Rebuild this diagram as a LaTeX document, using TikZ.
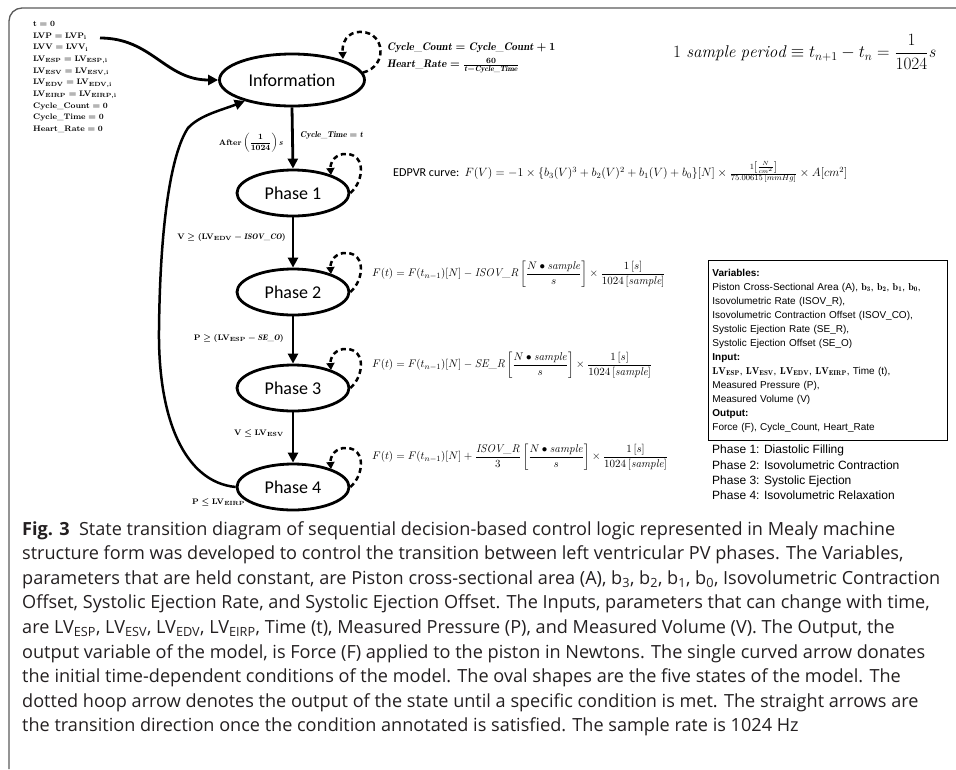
\documentclass[tikz,border=0pt]{standalone}
\usepackage{amsmath}
\usepackage{fontspec}
\newfontfamily\carl{Carlito}
\newfontfamily\arialf{Liberation Sans}
\newfontfamily\osans{Open Sans}
\usetikzlibrary{arrows.meta,shapes.geometric}
\definecolor{capcol}{HTML}{231F20}
\definecolor{frmcol}{HTML}{5A5A5A}
\tikzset{
  state/.style={ellipse, draw, line width=2.8pt, inner sep=0pt, minimum width=112pt, minimum height=46pt, font=\carl\fontsize{18}{20}\selectfont},
  arr/.style={line width=2.8pt, -{Triangle[length=10pt,width=10pt]}},
  loopd/.style={line width=2.5pt, dash pattern=on 5pt off 3.5pt, -{Triangle[length=7pt,width=8pt]}},
  lbl/.style={inner sep=0pt, font=\fontsize{8}{10}\selectfont\boldmath},
  frm/.style={inner sep=0pt, anchor=west, font=\fontsize{11.3}{13}\selectfont},
}
\begin{document}
\begin{tikzpicture}[x=1pt,y=1pt]
\useasboundingbox (0,0) rectangle (956,-769);
% frame
\draw[frmcol, line width=1.3pt] (9,-769) -- (9,-21) arc[start angle=180, end angle=90, radius=13] -- (956,-8);

% states
\node[state, minimum width=145pt, minimum height=52pt] (info) at (292,-80) {Information};
\node[state] (p1) at (293,-193) {Phase 1};
\node[state] (p2) at (293,-292) {Phase 2};
\node[state] (p3) at (293,-388) {Phase 3};
\node[state] (p4) at (293,-487) {Phase 4};

% initial conditions
\node[anchor=north west, align=left, inner sep=0pt, font=\fontsize{8.2}{11.7}\selectfont\boldmath] (init) at (33,-21)
{$\mathbf{t = 0}$\\
 $\mathbf{LVP = LVP_i}$\\
 $\mathbf{LVV = LVV_i}$\\
 $\mathbf{LV_{ESP} = LV_{ESP,i}}$\\
 $\mathbf{LV_{ESV} = LV_{ESV,i}}$\\
 $\mathbf{LV_{EDV} = LV_{EDV,i}}$\\
 $\mathbf{LV_{EIRP} = LV_{EIRP,i}}$\\
 $\mathbf{Cycle\_Count = 0}$\\
 $\mathbf{Cycle\_Time = 0}$\\
 $\mathbf{Heart\_Rate = 0}$};
\coordinate (start) at (100,-38);
\draw[arr] (start) .. controls (152,-38) and (165,-80) .. (info.west);

% straight transitions
\draw[arr] (info.south) -- (p1.north);
\draw[arr] (p1.south) -- (p2.north);
\draw[arr] (p2.south) -- (p3.north);
\draw[arr] (p3.south) -- (p4.north);

% return curve
\draw[line width=2.5pt, -{Triangle[length=10pt,width=10pt]}] (p4.west) .. controls (185,-482) and (158,-420) .. (159,-330)
  .. controls (160,-230) and (170,-155) .. (188,-128)
  .. controls (200,-115) and (222,-110) .. (info.204);

% dashed loops
\draw[loopd] (info.6) .. controls (388,-66) and (385,-33) .. (362,-32) .. controls (346,-31) and (342,-44) .. (343,-59);
\foreach \n/\c in {p1/193,p2/292,p3/388,p4/487}{
  \draw[loopd] (\n.east) .. controls (364,-\c+12) and (366,-\c+38) .. (347,-\c+39) .. controls (335,-\c+40) and (330,-\c+30) .. (331,-\c+18);
}

% labels on transitions
\node[lbl, anchor=east, font=\fontsize{8.5}{10}\selectfont\boldmath] (lafter) at (283,-143) {$\mathbf{After}\left(\dfrac{1}{1024}\right)\mathit{s}$};
\node[lbl, anchor=west, font=\fontsize{8.5}{10}\selectfont\boldmath] (lctime) at (300,-135) {$\mathit{Cycle\_Time} = \mathit{t}$};
\node[lbl, anchor=east] (l12) at (286,-237) {$\mathbf{V} \geq (\mathbf{LV}_{\mathbf{EDV}} - \mathit{ISOV\_CO})$};
\node[lbl, anchor=east] (l23) at (284,-338) {$\mathbf{P} \geq (\mathbf{LV}_{\mathbf{ESP}} - \mathit{SE\_O})$};
\node[lbl, anchor=east] (l34) at (284,-433) {$\mathbf{V} \leq \mathbf{LV}_{\mathbf{ESV}}$};
\node[lbl, anchor=west] (l41) at (192,-502) {$\mathbf{P} \leq \mathbf{LV}_{\mathbf{EIRP}}$};

% info outputs
\node[anchor=north west, align=left, inner sep=0pt, font=\fontsize{11}{17}\selectfont\boldmath] (infoout) at (387,-43)
{$\mathit{Cycle\_Count} = \mathit{Cycle\_Count} + 1$\\
 $\mathit{Heart\_Rate} = \frac{60}{\mathit{t} - \mathit{Cycle\_Time}}$};

% sample period
\node[inner sep=0pt, anchor=west, font=\fontsize{17}{19}\selectfont] (period) at (673,-52)
{$1\ \mathit{sample\ period} \equiv t_{n+1} - t_n = \dfrac{1}{1024}\mathit{s}$};

% formulas
\node[frm, font=\fontsize{12.1}{14}\selectfont] (f1) at (393,-172) {{\carl EDPVR curve:} $F(V) = -1 \times \{b_3(V)^3 + b_2(V)^2 + b_1(V) + b_0\}[N] \times \frac{1\left[\frac{N}{cm^2}\right]\rule[-2pt]{0pt}{0pt}}{75.00615\,[mmHg]} \times A[cm^2]$};
\node[frm] (f2) at (372,-274) {$F(t) = F(t_{n-1})[N] - \mathit{ISOV\_R}\left[\dfrac{N \bullet \mathit{sample}}{s}\right] \times \dfrac{1\,[s]}{1024\,[\mathit{sample}]}$};
\node[frm] (f3) at (372,-365) {$F(t) = F(t_{n-1})[N] - \mathit{SE\_R}\left[\dfrac{N \bullet \mathit{sample}}{s}\right] \times \dfrac{1\,[s]}{1024\,[\mathit{sample}]}$};
\node[frm] (f4) at (372,-457) {$F(t) = F(t_{n-1})[N] + \dfrac{\mathit{ISOV\_R}}{3}\left[\dfrac{N \bullet \mathit{sample}}{s}\right] \times \dfrac{1\,[s]}{1024\,[\mathit{sample}]}$};

% variables box
\node[draw, line width=0.9pt, anchor=north west, inner xsep=4pt, inner ysep=0pt, text width=231pt, minimum height=180pt, align=left,
      font=\arialf\fontsize{10}{14}\selectfont] (vars) at (708,-260)
{\textbf{Variables:}\\
 Piston Cross-Sectional Area (A), $\mathbf{b_3}$, $\mathbf{b_2}$, $\mathbf{b_1}$, $\mathbf{b_0}$,\\
 Isovolumetric Rate (ISOV\_R),\\
 Isovolumetric Contraction Offset (ISOV\_CO),\\
 Systolic Ejection Rate (SE\_R),\\
 Systolic Ejection Offset (SE\_O)\\
 \textbf{Input:}\\
 $\mathbf{LV_{ESP}}$, $\mathbf{LV_{ESV}}$, $\mathbf{LV_{EDV}}$, $\mathbf{LV_{EIRP}}$, Time (t),\\
 Measured Pressure (P),\\
 Measured Volume (V)\\
 \textbf{Output:}\\
 Force (F), Cycle\_Count, Heart\_Rate};

\node[anchor=north west, inner sep=0pt, align=left, font=\arialf\fontsize{12}{15.3}\selectfont] (phases) at (712,-445)
{Phase 1: Diastolic Filling\\
 Phase 2: Isovolumetric Contraction\\
 Phase 3: Systolic Ejection\\
 Phase 4: Isovolumetric Relaxation};

% caption
\node[anchor=north west, inner sep=0pt, align=left, text=capcol, font=\osans\fontsize{18.1}{24.6}\selectfont] (cap) at (22,-521)
{\textbf{Fig. 3}\ \ State transition diagram of sequential decision-based control logic represented in Mealy machine\\
structure form was developed to control the transition between left ventricular PV phases. The Variables,\\
parameters that are held constant, are Piston cross-sectional area (A), b\textsubscript{3}, b\textsubscript{2}, b\textsubscript{1}, b\textsubscript{0}, Isovolumetric Contraction\\
Offset, Systolic Ejection Rate, and Systolic Ejection Offset. The Inputs, parameters that can change with time,\\
are LV\textsubscript{ESP}, LV\textsubscript{ESV}, LV\textsubscript{EDV}, LV\textsubscript{EIRP}, Time (t), Measured Pressure (P), and Measured Volume (V). The Output, the\\
output variable of the model, is Force (F) applied to the piston in Newtons. The single curved arrow donates\\
the initial time-dependent conditions of the model. The oval shapes are the five states of the model. The\\
dotted hoop arrow denotes the output of the state until a specific condition is met. The straight arrows are\\
the transition direction once the condition annotated is satisfied. The sample rate is 1024 Hz};
\end{tikzpicture}
\end{document}
